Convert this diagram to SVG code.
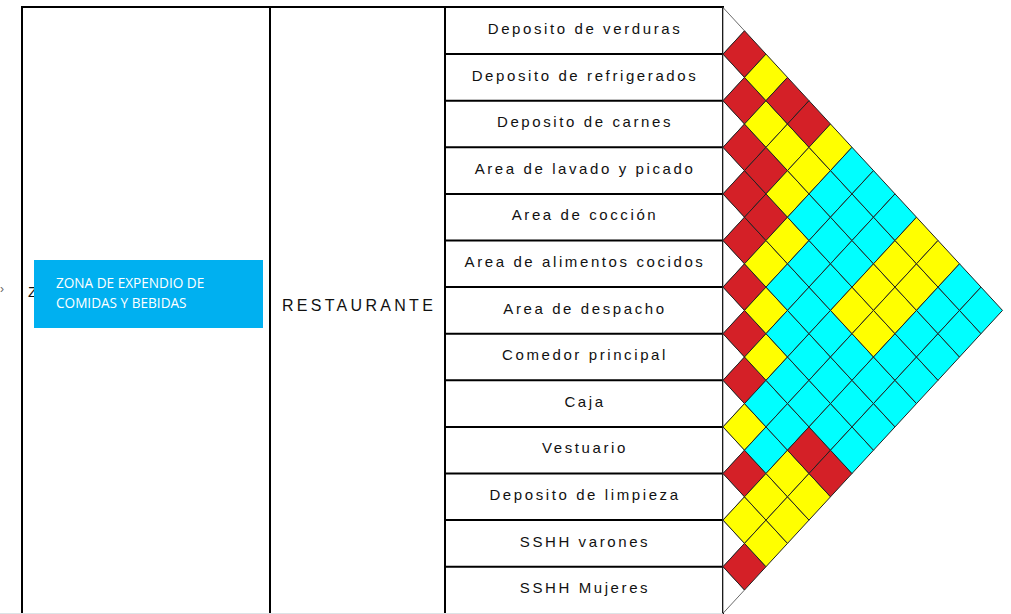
<svg xmlns="http://www.w3.org/2000/svg" xmlns:xlink="http://www.w3.org/1999/xlink" width="1011" height="614" viewBox="0 0 1011 614">
<style>
.ln{stroke:#000;stroke-width:2;fill:none}
.lbl{font-family:"Liberation Sans",Arial,sans-serif;font-size:15px;letter-spacing:2.6px;fill:#111;text-anchor:middle}
.big{font-family:"Liberation Sans",Arial,sans-serif;font-size:16px;letter-spacing:3.3px;fill:#111;text-anchor:middle}
.zt{font-family:"Open Sans","Liberation Sans",sans-serif;font-size:13.6px;fill:#fff}
.R{fill:#d42027}
.Y{fill:#ffff00}
.C{fill:#00ffff}
.cell{stroke:#222;stroke-width:1}
.tri{fill:#fff;stroke:#444;stroke-width:0.8}
</style>
<defs>
<polygon id="d" points="0,-23.3 21.5,0 0,23.3 -21.5,0"/>
<polygon id="t" points="0,0 21.5,23.3 0,46.6"/>
</defs>
<rect width="1011" height="614" fill="#fff"/>

<g id="frame">
<line class="ln" x1="21" y1="7" x2="724" y2="7"/>
<line class="ln" x1="22" y1="6" x2="22" y2="614"/>
<line class="ln" x1="270" y1="7" x2="270" y2="614"/>
<line class="ln" x1="445" y1="7" x2="445" y2="614"/>
<line class="ln" x1="723" y1="6" x2="723" y2="614"/>
<line x1="0" y1="613.5" x2="723" y2="613.5" stroke="#dde3e6" stroke-width="1"/>
</g>

<g id="zone">
<text x="0" y="293" font-family="Liberation Sans,sans-serif" font-size="12" fill="#666">›</text>
<text x="28" y="297" font-family="Liberation Sans,sans-serif" font-size="15" fill="#111">Z</text>
<rect x="34" y="260" width="229" height="68" fill="#00b0f0"/>
<text class="zt" x="56" y="288">ZONA DE EXPENDIO DE</text>
<text class="zt" x="56" y="308">COMIDAS Y BEBIDAS</text>
</g>

<g id="restaurante">
<text class="big" x="359" y="311">RESTAURANTE</text>
</g>

<g id="rows">
<g id="row0"><text class="lbl" x="585" y="34">Deposito de verduras</text></g>
<line class="ln" x1="445" y1="54.1" x2="723" y2="54.1"/>
<g id="row1"><text class="lbl" x="585" y="80.6">Deposito de refrigerados</text></g>
<line class="ln" x1="445" y1="100.7" x2="723" y2="100.7"/>
<g id="row2"><text class="lbl" x="585" y="127.2">Deposito de carnes</text></g>
<line class="ln" x1="445" y1="147.3" x2="723" y2="147.3"/>
<g id="row3"><text class="lbl" x="585" y="173.8">Area de lavado y picado</text></g>
<line class="ln" x1="445" y1="193.9" x2="723" y2="193.9"/>
<g id="row4"><text class="lbl" x="585" y="220.4">Area de cocción</text></g>
<line class="ln" x1="445" y1="240.5" x2="723" y2="240.5"/>
<g id="row5"><text class="lbl" x="585" y="267">Area de alimentos cocidos</text></g>
<line class="ln" x1="445" y1="287.1" x2="723" y2="287.1"/>
<g id="row6"><text class="lbl" x="585" y="313.6">Area de despacho</text></g>
<line class="ln" x1="445" y1="333.7" x2="723" y2="333.7"/>
<g id="row7"><text class="lbl" x="585" y="360.2">Comedor principal</text></g>
<line class="ln" x1="445" y1="380.3" x2="723" y2="380.3"/>
<g id="row8"><text class="lbl" x="585" y="406.8">Caja</text></g>
<line class="ln" x1="445" y1="426.9" x2="723" y2="426.9"/>
<g id="row9"><text class="lbl" x="585" y="453.4">Vestuario</text></g>
<line class="ln" x1="445" y1="473.5" x2="723" y2="473.5"/>
<g id="row10"><text class="lbl" x="585" y="500">Deposito de limpieza</text></g>
<line class="ln" x1="445" y1="520.1" x2="723" y2="520.1"/>
<g id="row11"><text class="lbl" x="585" y="546.6">SSHH varones</text></g>
<line class="ln" x1="445" y1="566.7" x2="723" y2="566.7"/>
<g id="row12"><text class="lbl" x="585" y="593.2">SSHH Mujeres</text></g>
</g>

<g id="matrix">
<g id="edge-triangles" class="tri">
<use xlink:href="#t" x="723" y="7.5"/>
<use xlink:href="#t" x="723" y="54.1"/>
<use xlink:href="#t" x="723" y="100.7"/>
<use xlink:href="#t" x="723" y="147.3"/>
<use xlink:href="#t" x="723" y="193.9"/>
<use xlink:href="#t" x="723" y="240.5"/>
<use xlink:href="#t" x="723" y="287.1"/>
<use xlink:href="#t" x="723" y="333.7"/>
<use xlink:href="#t" x="723" y="380.3"/>
<use xlink:href="#t" x="723" y="426.9"/>
<use xlink:href="#t" x="723" y="473.5"/>
<use xlink:href="#t" x="723" y="520.1"/>
<use xlink:href="#t" x="723" y="566.7"/>
</g>
<g id="cells" class="cell">
<!-- k=1 -->
<use xlink:href="#d" class="R" x="744.5" y="54.1"/>
<use xlink:href="#d" class="R" x="744.5" y="100.7"/>
<use xlink:href="#d" class="R" x="744.5" y="147.3"/>
<use xlink:href="#d" class="R" x="744.5" y="193.9"/>
<use xlink:href="#d" class="R" x="744.5" y="240.5"/>
<use xlink:href="#d" class="R" x="744.5" y="287.1"/>
<use xlink:href="#d" class="R" x="744.5" y="333.7"/>
<use xlink:href="#d" class="R" x="744.5" y="380.3"/>
<use xlink:href="#d" class="Y" x="744.5" y="426.9"/>
<use xlink:href="#d" class="R" x="744.5" y="473.5"/>
<use xlink:href="#d" class="Y" x="744.5" y="520.1"/>
<use xlink:href="#d" class="R" x="744.5" y="566.7"/>
<!-- k=2 -->
<use xlink:href="#d" class="Y" x="766" y="77.4"/>
<use xlink:href="#d" class="Y" x="766" y="124"/>
<use xlink:href="#d" class="R" x="766" y="170.6"/>
<use xlink:href="#d" class="R" x="766" y="217.2"/>
<use xlink:href="#d" class="Y" x="766" y="263.8"/>
<use xlink:href="#d" class="Y" x="766" y="310.4"/>
<use xlink:href="#d" class="Y" x="766" y="357"/>
<use xlink:href="#d" class="C" x="766" y="403.6"/>
<use xlink:href="#d" class="C" x="766" y="450.2"/>
<use xlink:href="#d" class="Y" x="766" y="496.8"/>
<use xlink:href="#d" class="Y" x="766" y="543.4"/>
<!-- k=3 -->
<use xlink:href="#d" class="R" x="787.5" y="100.7"/>
<use xlink:href="#d" class="Y" x="787.5" y="147.3"/>
<use xlink:href="#d" class="Y" x="787.5" y="193.9"/>
<use xlink:href="#d" class="Y" x="787.5" y="240.5"/>
<use xlink:href="#d" class="C" x="787.5" y="287.1"/>
<use xlink:href="#d" class="C" x="787.5" y="333.7"/>
<use xlink:href="#d" class="C" x="787.5" y="380.3"/>
<use xlink:href="#d" class="C" x="787.5" y="426.9"/>
<use xlink:href="#d" class="Y" x="787.5" y="473.5"/>
<use xlink:href="#d" class="Y" x="787.5" y="520.1"/>
<!-- k=4 -->
<use xlink:href="#d" class="R" x="809" y="124"/>
<use xlink:href="#d" class="Y" x="809" y="170.6"/>
<use xlink:href="#d" class="C" x="809" y="217.2"/>
<use xlink:href="#d" class="C" x="809" y="263.8"/>
<use xlink:href="#d" class="C" x="809" y="310.4"/>
<use xlink:href="#d" class="C" x="809" y="357"/>
<use xlink:href="#d" class="C" x="809" y="403.6"/>
<use xlink:href="#d" class="R" x="809" y="450.2"/>
<use xlink:href="#d" class="Y" x="809" y="496.8"/>
<!-- k=5 -->
<use xlink:href="#d" class="Y" x="830.5" y="147.3"/>
<use xlink:href="#d" class="C" x="830.5" y="193.9"/>
<use xlink:href="#d" class="C" x="830.5" y="240.5"/>
<use xlink:href="#d" class="C" x="830.5" y="287.1"/>
<use xlink:href="#d" class="C" x="830.5" y="333.7"/>
<use xlink:href="#d" class="C" x="830.5" y="380.3"/>
<use xlink:href="#d" class="C" x="830.5" y="426.9"/>
<use xlink:href="#d" class="R" x="830.5" y="473.5"/>
<!-- k=6 -->
<use xlink:href="#d" class="C" x="852" y="170.6"/>
<use xlink:href="#d" class="C" x="852" y="217.2"/>
<use xlink:href="#d" class="C" x="852" y="263.8"/>
<use xlink:href="#d" class="Y" x="852" y="310.4"/>
<use xlink:href="#d" class="C" x="852" y="357"/>
<use xlink:href="#d" class="C" x="852" y="403.6"/>
<use xlink:href="#d" class="C" x="852" y="450.2"/>
<!-- k=7 -->
<use xlink:href="#d" class="C" x="873.5" y="193.9"/>
<use xlink:href="#d" class="C" x="873.5" y="240.5"/>
<use xlink:href="#d" class="Y" x="873.5" y="287.1"/>
<use xlink:href="#d" class="Y" x="873.5" y="333.7"/>
<use xlink:href="#d" class="C" x="873.5" y="380.3"/>
<use xlink:href="#d" class="C" x="873.5" y="426.9"/>
<!-- k=8 -->
<use xlink:href="#d" class="C" x="895" y="217.2"/>
<use xlink:href="#d" class="Y" x="895" y="263.8"/>
<use xlink:href="#d" class="Y" x="895" y="310.4"/>
<use xlink:href="#d" class="C" x="895" y="357"/>
<use xlink:href="#d" class="C" x="895" y="403.6"/>
<!-- k=9 -->
<use xlink:href="#d" class="Y" x="916.5" y="240.5"/>
<use xlink:href="#d" class="Y" x="916.5" y="287.1"/>
<use xlink:href="#d" class="C" x="916.5" y="333.7"/>
<use xlink:href="#d" class="C" x="916.5" y="380.3"/>
<!-- k=10 -->
<use xlink:href="#d" class="Y" x="938" y="263.8"/>
<use xlink:href="#d" class="C" x="938" y="310.4"/>
<use xlink:href="#d" class="C" x="938" y="357"/>
<!-- k=11 -->
<use xlink:href="#d" class="C" x="959.5" y="287.1"/>
<use xlink:href="#d" class="C" x="959.5" y="333.7"/>
<!-- k=12 -->
<use xlink:href="#d" class="C" x="981" y="310.4"/>
</g>
</g>
</svg>
